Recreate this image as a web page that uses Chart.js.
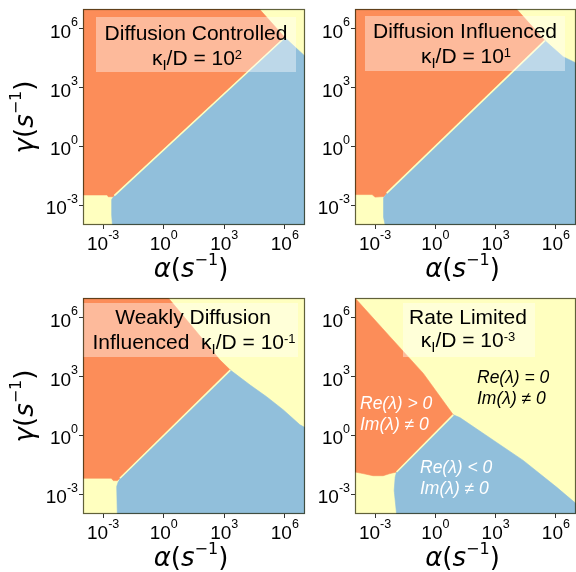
<!DOCTYPE html>
<html><head><meta charset="utf-8">
<script src="https://cdn.jsdelivr.net/npm/chart.js@4"></script>
<style>
html,body{margin:0;padding:0;background:#fff;overflow:hidden;width:576px;height:572px;}
canvas{position:absolute;}
</style></head>
<body>
<canvas id="c1"></canvas><canvas id="c2"></canvas><canvas id="c3"></canvas><canvas id="c4"></canvas>
<script>
// ---- axes (log10 units) ----
const axisMin = -4, axisMax = 7;
const tickValues = [-3, 0, 3, 6];
const tickExponents = ['-3', '0', '3', '6'];

// ---- panel texts ----
const panelLine1 = ['Diffusion Controlled', 'Diffusion Influenced', 'Weakly Diffusion', 'Rate Limited'];
const panelLine2Prefix = ['', '', 'Influenced  ', ''];
const kappaExponents = ['2', '1', '-1', '-3'];
const regionLabels = [['Re(λ) > 0', 'Im(λ) ≠ 0'], ['Re(λ) = 0', 'Im(λ) ≠ 0'], ['Re(λ) < 0', 'Im(λ) ≠ 0']];

// ---- region boundaries, [log10 alpha, log10 gamma] ----
const fullDomain = [[-4,-4],[7,-4],[7,7],[-4,7]];

const p1Orange = [[-4,7],[4.74,7],[6.0,5.55],[-2.45,-2.5],[-2.5,-2.56],[-2.75,-2.56],[-2.8,-2.47],[-4,-2.47]];
const p1Blue   = [[-2.45,-2.5],[6.0,5.55],[6.67,4.91],[7,4.6],[7,-4],[-2.54,-4],[-2.58,-3.5],[-2.58,-2.7],[-2.5,-2.58]];
const p1Edge   = [[-2.45,-2.5],[6.0,5.55]];

const p2Orange = [[-4,7],[4.04,7],[5.45,5.39],[-2.42,-2.38],[-2.55,-2.55],[-3.0,-2.58],[-3.15,-2.45],[-4,-2.45]];
const p2Blue   = [[-2.42,-2.38],[5.45,5.39],[6.36,4.57],[7,4.25],[7,-4],[-2.5,-4],[-2.58,-3.6],[-2.58,-2.6]];
const p2Edge   = [[-2.42,-2.38],[5.45,5.39]];

const p3Orange = [[-4,7],[0.23,7],[2.79,3.84],[3.3,3.33],[-2.17,-2.18],[-2.3,-2.3],[-2.5,-2.3],[-2.6,-2.18],[-4,-2.18]];
const p3Blue   = [[-2.17,-2.18],[3.3,3.33],[4.28,2.57],[5.1,1.97],[5.93,1.3],[6.75,0.54],[7,0.4],[7,-4],[-2.3,-4],[-2.33,-2.6],[-2.25,-2.35]];
const p3Edge   = [[-2.17,-2.18],[3.3,3.33]];

const p4Orange = [[-4,7],[-2.26,5.03],[-0.6,3.16],[0.89,1.05],[-1.93,-1.86],[-2.26,-1.94],[-2.6,-2.05],[-3.1,-2.05],[-3.6,-1.94],[-4,-1.86]];
const p4Blue   = [[0.89,1.05],[1.22,0.91],[4.37,-1.27],[6.03,-2.63],[7,-3.47],[7,-4],[-1.93,-4],[-2.05,-2.8],[-2.0,-2.12],[-1.93,-1.86]];
const p4Edge   = [[-1.93,-1.86],[0.89,1.05]];

const ORANGE = '#fc8d59', YELLOW = '#ffffbf', BLUE = '#91bfdb';
const SANS = '"Liberation Sans", Arial, sans-serif';
const MATH = '"DejaVu Sans", sans-serif';

const panels = [
  {id:'c1', left:0,   top:0,   w:310, h:290, plot:{l:83, t:9, r:305, b:225}, yTitle:true,
   orange:p1Orange, blue:p1Blue, edge:p1Edge, idx:0,
   box:{x:13, y:8, w:200, h:55}, l1:{x:113, y:31}, l2:{x:114, y:56}},
  {id:'c2', left:310, top:0,   w:266, h:290, plot:{l:45, t:9, r:266, b:225}, yTitle:false,
   orange:p2Orange, blue:p2Blue, edge:p2Edge, idx:1,
   box:{x:10, y:7, w:200, h:55}, l1:{x:110, y:29}, l2:{x:111, y:54}},
  {id:'c3', left:0,   top:290, w:310, h:282, plot:{l:83, t:8, r:305, b:224}, yTitle:true,
   orange:p3Orange, blue:p3Blue, edge:p3Edge, idx:2,
   box:{x:0, y:5, w:215, h:54}, l1:{x:110, y:26}, l2:{x:111, y:51}},
  {id:'c4', left:310, top:290, w:266, h:282, plot:{l:45, t:8, r:266, b:224}, yTitle:false,
   orange:p4Orange, blue:p4Blue, edge:p4Edge, idx:3, regions:true,
   box:{x:48, y:5, w:132, h:54}, l1:{x:113, y:26}, l2:{x:113, y:49}}
];

function drawRich(ctx, parts, x, y, align) {
  let w = 0;
  for (const p of parts) { ctx.font = p.f; p.w = ctx.measureText(p.t).width; w += p.w; }
  let cx = align === 'center' ? x - w / 2 : (align === 'right' ? x - w : x);
  ctx.textAlign = 'left';
  ctx.textBaseline = 'alphabetic';
  for (const p of parts) { ctx.font = p.f; ctx.fillText(p.t, cx, y + (p.dy || 0)); cx += p.w; }
}

function tickParts(exp) {
  return [{t:'10', f:'19px ' + SANS}, {t:exp, f:'12.5px ' + SANS, dy:-11.5}];
}
function titleParts(sym) {
  return [{t:sym, f:'italic 26px ' + MATH}, {t:'(', f:'26px ' + MATH}, {t:'s', f:'italic 26px ' + MATH},
          {t:'\u22121', f:'16px ' + MATH, dy:-12}, {t:')', f:'26px ' + MATH}];
}

function decor(cfg) {
  return {
    id: 'decor' + cfg.idx,
    afterDatasetsDraw(chart) {
      const ctx = chart.ctx, a = chart.chartArea;
      const xs = chart.scales.x, ys = chart.scales.y;
      ctx.save();
      // label box
      ctx.fillStyle = 'rgba(255,255,255,0.4)';
      ctx.fillRect(a.left + cfg.box.x, a.top + cfg.box.y, cfg.box.w, cfg.box.h);
      ctx.fillStyle = '#000';
      drawRich(ctx, [{t:panelLine1[cfg.idx], f:'21px ' + SANS}], a.left + cfg.l1.x, a.top + cfg.l1.y, 'center');
      drawRich(ctx, [
        {t:panelLine2Prefix[cfg.idx] + 'κ', f:'21px ' + SANS},
        {t:'I', f:'15px ' + SANS, dy:5},
        {t:'/D = 10', f:'21px ' + SANS},
        {t:kappaExponents[cfg.idx], f:'13px ' + SANS, dy:-6}
      ], a.left + cfg.l2.x, a.top + cfg.l2.y, 'center');
      // region labels
      if (cfg.regions) {
        const pos = [[5, 111, '#fff'], [122, 85, '#000'], [65, 175, '#fff']];
        regionLabels.forEach((lines, i) => {
          ctx.fillStyle = pos[i][2];
          lines.forEach((s, j) => drawRich(ctx, [{t:s, f:'italic 17.5px ' + SANS}], a.left + pos[i][0], a.top + pos[i][1] + j * 21, 'left'));
        });
      }
      // border
      ctx.strokeStyle = 'rgba(30,30,0,0.7)';
      ctx.lineWidth = 1.2;
      ctx.strokeRect(a.left + 0.5, a.top + 0.5, a.right - a.left - 1, a.bottom - a.top - 1);
      // tick labels
      ctx.fillStyle = '#000';
      tickValues.forEach((v, i) => {
        drawRich(ctx, tickParts(tickExponents[i]), xs.getPixelForValue(v), a.bottom + 25, 'center');
        drawRich(ctx, tickParts(tickExponents[i]), a.left - 5, ys.getPixelForValue(v) + 9, 'right');
      });
      // axis titles
      drawRich(ctx, titleParts('α'), (a.left + a.right) / 2 - 3, a.bottom + 52, 'center');
      if (cfg.yTitle) {
        ctx.save();
        ctx.translate(33, (a.top + a.bottom) / 2);
        ctx.rotate(-Math.PI / 2);
        drawRich(ctx, titleParts('γ'), 0, 0, 'center');
        ctx.restore();
      }
      ctx.restore();
    }
  };
}

function makePanel(cfg) {
  const canvas = document.getElementById(cfg.id);
  canvas.style.left = cfg.left + 'px';
  canvas.style.top = cfg.top + 'px';
  canvas.width = cfg.w; canvas.height = cfg.h;
  const pts = arr => arr.map(([x, y]) => ({x, y}));
  const poly = (arr, color, order) => ({data: pts(arr), backgroundColor: color, borderColor: color,
    borderWidth: 0.6, fill: 'shape', pointRadius: 0, tension: 0, order});
  const axisCommon = {
    type: 'linear', min: axisMin, max: axisMax,
    afterBuildTicks: s => { s.ticks = tickValues.map(v => ({value: v})); },
    ticks: {display: false},
    grid: {display: true, drawOnChartArea: false, drawTicks: true, tickLength: 4, tickColor: '#333', tickWidth: 1},
    border: {display: false}
  };
  new Chart(canvas, {
    type: 'line',
    data: {datasets: [
      {data: pts(cfg.edge), borderColor: YELLOW, borderWidth: 1.6, fill: false, pointRadius: 0, tension: 0, order: 1},
      poly(cfg.blue, BLUE, 2),
      poly(cfg.orange, ORANGE, 3),
      poly(fullDomain, YELLOW, 4)
    ]},
    options: {
      responsive: false, animation: false, devicePixelRatio: 1,
      layout: {padding: {left: 0, top: cfg.plot.t, right: cfg.w - cfg.plot.r, bottom: 0}},
      plugins: {legend: {display: false}, tooltip: {enabled: false}},
      scales: {
        x: Object.assign({}, axisCommon, {afterFit: s => { s.height = cfg.h - cfg.plot.b; }}),
        y: Object.assign({}, axisCommon, {afterFit: s => { s.width = cfg.plot.l; }})
      }
    },
    plugins: [decor(cfg)]
  });
}

panels.forEach(makePanel);
</script>
</body></html>
